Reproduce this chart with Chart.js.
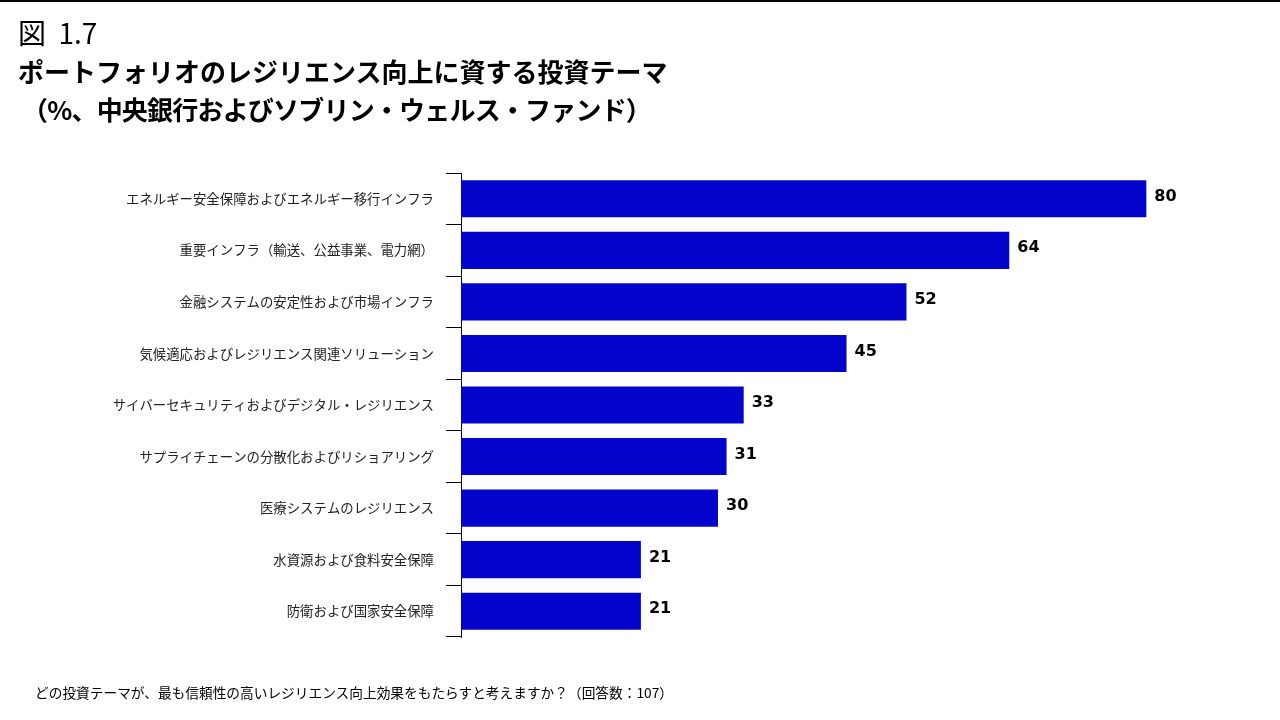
<!DOCTYPE html>
<html>
<head>
<meta charset="utf-8">
<script src="https://cdn.jsdelivr.net/npm/chart.js@4/dist/chart.umd.min.js"></script>
<style>
  html, body { margin: 0; padding: 0; background: #fff; }
  #page { position: relative; width: 1280px; height: 720px; overflow: hidden; border-top: 2px solid #000; box-sizing: border-box; }
  .t { position: absolute; white-space: nowrap; color: #000; font-family: "Noto Sans CJK JP", sans-serif; }
  #fig { left: 18px; top: 13px; font-size: 28px; line-height: 34px; }
  #title1 { left: 18px; top: 52px; font-size: 26px; line-height: 34px; font-weight: bold; }
  #title2 { left: 22px; top: 90px; font-size: 26px; line-height: 34px; font-weight: bold; letter-spacing: -0.8px; }
  #note { left: 35px; top: 680px; font-size: 13.7px; line-height: 20px; }
  #chartBox { position: absolute; left: 0; top: -1px; width: 1280px; height: 720px; }
</style>
</head>
<body>
<div id="page">
  <div id="chartBox"><canvas id="c" width="1280" height="720"></canvas></div>
  <div class="t" id="fig">図&nbsp;&nbsp;1.7</div>
  <div class="t" id="title1">ポートフォリオのレジリエンス向上に資する投資テーマ</div>
  <div class="t" id="title2">（%、中央銀行およびソブリン・ウェルス・ファンド）</div>
  <div class="t" id="note">どの投資テーマが、最も信頼性の高いレジリエンス向上効果をもたらすと考えますか？（回答数：107）</div>
</div>
<script>
/* ============================================================
   DATA
   ============================================================ */
const categories = [
  "エネルギー安全保障およびエネルギー移行インフラ",
  "重要インフラ（輸送、公益事業、電力網）",
  "金融システムの安定性および市場インフラ",
  "気候適応およびレジリエンス関連ソリューション",
  "サイバーセキュリティおよびデジタル・レジリエンス",
  "サプライチェーンの分散化およびリショアリング",
  "医療システムのレジリエンス",
  "水資源および食料安全保障",
  "防衛および国家安全保障",
];
const values = [80, 64, 52, 45, 33, 31, 30, 21, 21];

const BAR = "#0404CC";

// value labels at bar ends
const valueLabels = {
  id: "valueLabels",
  afterDatasetsDraw(chart) {
    const ctx = chart.ctx;
    const meta = chart.getDatasetMeta(0);
    ctx.save();
    ctx.fillStyle = "#000";
    ctx.font = "bold 16px 'DejaVu Sans', Verdana, sans-serif";
    ctx.textBaseline = "middle";
    ctx.textAlign = "left";
    meta.data.forEach((bar, i) => {
      ctx.fillText(String(values[i]), bar.x + 8, bar.y - 2);
    });
    ctx.restore();
  }
};

new Chart(document.getElementById("c").getContext("2d"), {
  type: "bar",
  data: {
    labels: categories,
    datasets: [{
      data: values,
      backgroundColor: BAR,
      borderWidth: 0,
      barPercentage: 0.72,
      categoryPercentage: 1,
    }],
  },
  options: {
    indexAxis: "y",
    responsive: false,
    animation: false,
    layout: { padding: { top: 172, bottom: 84, left: 0, right: 48 } },
    plugins: { legend: { display: false }, tooltip: { enabled: false } },
    scales: {
      x: { display: false, min: 0, max: 90 },
      y: {
        afterFit: s => { s.width = 461; },
        border: { display: true, color: "#000", width: 1 },
        grid: {
          offset: true,
          drawOnChartArea: false,
          drawTicks: true,
          tickLength: 15,
          tickColor: "#000",
          color: "#000",
        },
        ticks: {
          padding: 12,
          color: "#222",
          font: { family: "'Noto Sans CJK JP', sans-serif", size: 13.4 },
        },
      },
    },
  },
  plugins: [valueLabels],
});
</script>
</body>
</html>
